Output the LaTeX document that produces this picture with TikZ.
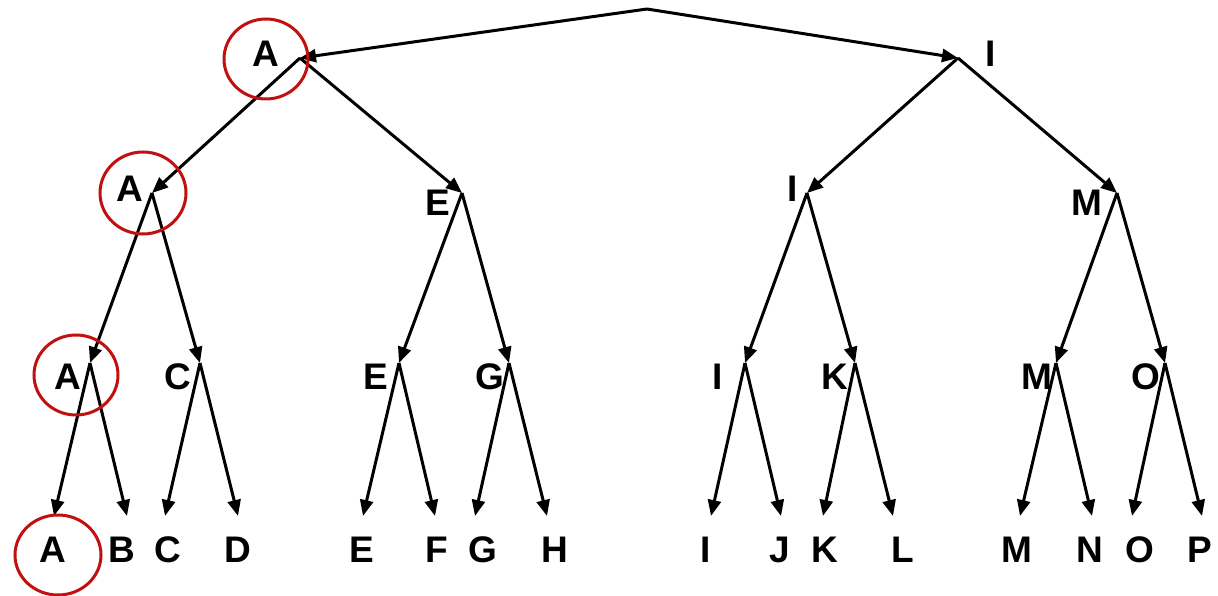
\documentclass[tikz,border=0pt]{standalone}
\usepackage{fontspec}
\setmainfont{Liberation Sans}
\usetikzlibrary{arrows.meta}
\definecolor{ringred}{RGB}{192,16,16}
\begin{document}
\begin{tikzpicture}[x=1pt,y=-1pt,
  edge/.style={line width=3pt,-{Triangle[length=16pt,width=13pt]}},
  lbl/.style={anchor=base,inner sep=0pt,font=\fontsize{37}{40}\selectfont\bfseries},
  ring/.style={draw=ringred,line width=3pt}]
\useasboundingbox (0,0) rectangle (1218,596);

% junction points of the tree
\coordinate (root) at (647,9);
\coordinate (a1) at (300,58);
\coordinate (i1) at (958,58);
\coordinate (a2) at (152,193);
\coordinate (e2) at (462,193);
\coordinate (i2) at (807,193);
\coordinate (m2) at (1117,193);
\coordinate (a3) at (90,363);
\coordinate (c3) at (200,363);
\coordinate (e3) at (399,363);
\coordinate (g3) at (509,363);
\coordinate (i3) at (745,363);
\coordinate (k3) at (855,363);
\coordinate (m3) at (1056,363);
\coordinate (o3) at (1165,363);
% leaf arrow tips
\coordinate (ta) at (54,516);
\coordinate (tb) at (127,516);
\coordinate (tc) at (165,516);
\coordinate (td) at (238,516);
\coordinate (te) at (363,516);
\coordinate (tf) at (435,516);
\coordinate (tg) at (475,516);
\coordinate (th) at (547,516);
\coordinate (ti) at (711,516);
\coordinate (tj) at (781,516);
\coordinate (tk) at (823,516);
\coordinate (tl) at (893,516);
\coordinate (tm) at (1020,516);
\coordinate (tn) at (1092,516);
\coordinate (to) at (1132,516);
\coordinate (tp) at (1202,516);

% labels
\node[lbl] (LA1) at (266,67) {A};
\node[lbl] (LI1) at (991,67) {I};
\node[lbl] (LA2) at (130,202) {A};
\node[lbl] (LE2) at (438,215) {E};
\node[lbl] (LI2) at (793,202) {I};
\node[lbl] (LM2) at (1087,215) {M};
\node[lbl] (LA3) at (68,389) {A};
\node[lbl] (LC3) at (178,389) {C};
\node[lbl] (LE3) at (376,389) {E};
\node[lbl] (LG3) at (490,389) {G};
\node[lbl] (LI3) at (718,389) {I};
\node[lbl] (LK3) at (835,389) {K};
\node[lbl] (LM3) at (1037,389) {M};
\node[lbl] (LO3) at (1146,389) {O};
\node[lbl] (LA) at (53,562) {A};
\node[lbl] (LB) at (122,562) {B};
\node[lbl] (LC) at (168,562) {C};
\node[lbl] (LD) at (238,562) {D};
\node[lbl] (LE) at (362,562) {E};
\node[lbl] (LF) at (437,562) {F};
\node[lbl] (LG) at (483,562) {G};
\node[lbl] (LH) at (555,562) {H};
\node[lbl] (LI) at (706,562) {I};
\node[lbl] (LJ) at (780,562) {J};
\node[lbl] (LK) at (825,562) {K};
\node[lbl] (LL) at (903,562) {L};
\node[lbl] (LM) at (1017,562) {M};
\node[lbl] (LN) at (1090,562) {N};
\node[lbl] (LO) at (1140,562) {O};
\node[lbl] (LP) at (1200,562) {P};

% edges
\draw[edge] (root) -- (a1);
\draw[edge] (root) -- (i1);
\draw[edge] (a1) -- (a2);
\draw[edge] (a1) -- (e2);
\draw[edge] (i1) -- (i2);
\draw[edge] (i1) -- (m2);
\draw[edge] (a2) -- (a3);
\draw[edge] (a2) -- (c3);
\draw[edge] (e2) -- (e3);
\draw[edge] (e2) -- (g3);
\draw[edge] (i2) -- (i3);
\draw[edge] (i2) -- (k3);
\draw[edge] (m2) -- (m3);
\draw[edge] (m2) -- (o3);
\draw[edge] (a3) -- (ta);
\draw[edge] (a3) -- (tb);
\draw[edge] (c3) -- (tc);
\draw[edge] (c3) -- (td);
\draw[edge] (e3) -- (te);
\draw[edge] (e3) -- (tf);
\draw[edge] (g3) -- (tg);
\draw[edge] (g3) -- (th);
\draw[edge] (i3) -- (ti);
\draw[edge] (i3) -- (tj);
\draw[edge] (k3) -- (tk);
\draw[edge] (k3) -- (tl);
\draw[edge] (m3) -- (tm);
\draw[edge] (m3) -- (tn);
\draw[edge] (o3) -- (to);
\draw[edge] (o3) -- (tp);

% highlighted path
\draw[ring] (266,59) ellipse [x radius=42, y radius=40];
\draw[ring] (143,193) ellipse [x radius=43, y radius=41];
\draw[ring] (76,375) ellipse [x radius=42, y radius=40];
\draw[ring] (58,555) ellipse [x radius=43, y radius=40];
\end{tikzpicture}
\end{document}
